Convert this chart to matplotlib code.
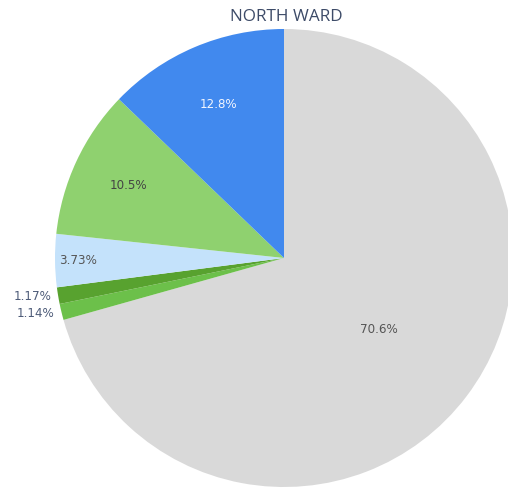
import numpy as np
import matplotlib
matplotlib.use("Agg")
import matplotlib.pyplot as plt

# data (clockwise from 12 o'clock)
labels = ["70.6%", "1.14%", "1.17%", "3.73%", "10.5%", "12.8%"]
values = [70.6, 1.14, 1.17, 3.73, 10.5, 12.8]
colors = ["#d9d9d9", "#6cc04a", "#58a22f", "#c4e2fb", "#8fd16f", "#4189ee"]
label_colors = ["#555555", "#4d5b78", "#4d5b78", "#555555", "#444444", "#f2f6ff"]
label_dist = [0.52, 1.03, 1.03, 0.9, 0.75, 0.73]
title = "NORTH WARD"

W, H = 508, 490
fig = plt.figure(figsize=(W / 100, H / 100), dpi=100)
ax = fig.add_axes([0, 0, 1, 1])

cx, cy, r = 284, H - 258, 229
wedges, _ = ax.pie(values, colors=colors, startangle=90, counterclock=False,
                   center=(cx, cy), radius=r, frame=True,
                   wedgeprops=dict(linewidth=0))
ax.set_xlim(0, W)
ax.set_ylim(0, H)
ax.set_aspect("equal")
ax.axis("off")

for w, lab, col, d in zip(wedges, labels, label_colors, label_dist):
    ang = np.deg2rad((w.theta1 + w.theta2) / 2)
    x = cx + d * r * np.cos(ang)
    y = cy + d * r * np.sin(ang)
    ha = "right" if d > 1 else "center"
    ax.text(x, y, lab, ha=ha, va="center", fontsize=8.6, color=col,
            family="DejaVu Sans")

fig.text(286 / W, 1 - 17 / H, title, ha="center", va="center",
         fontsize=12.3, color="#3d4b68", family="Open Sans")

fig.savefig("out.png", dpi=100, facecolor="white")
